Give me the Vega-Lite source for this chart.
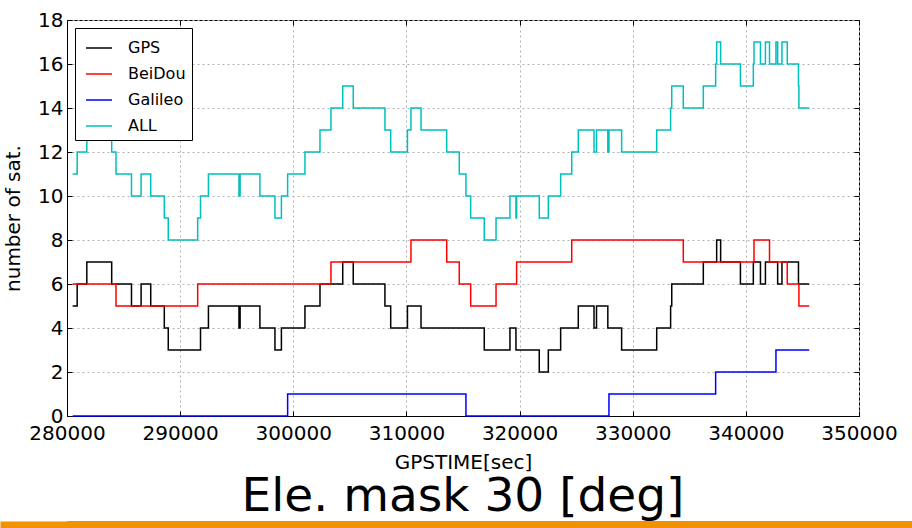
{
  "$schema": "https://vega.github.io/schema/vega-lite/v6.json",
  "background": "white",
  "padding": {"left": -5, "top": 9, "right": 0, "bottom": 0},
  "autosize": {"type": "pad"},
  "spacing": -3,
  "vconcat": [
    {
      "width": 792,
      "height": 396,
      "title": {"text": "Ele. mask 30 [deg]", "orient": "bottom", "fontSize": 47, "font": "DejaVu Sans", "fontWeight": "normal", "color": "black", "offset": 2, "anchor": "middle"},
      "data": {"values": [
        {"sat":"GPS","t":280500,"n":5},{"sat":"GPS","t":280900,"n":6},{"sat":"GPS","t":281750,"n":7},{"sat":"GPS","t":283950,"n":6},
        {"sat":"GPS","t":285700,"n":5},{"sat":"GPS","t":286550,"n":6},{"sat":"GPS","t":287400,"n":5},{"sat":"GPS","t":288600,"n":4},
        {"sat":"GPS","t":288950,"n":3},{"sat":"GPS","t":291800,"n":4},{"sat":"GPS","t":292500,"n":5},{"sat":"GPS","t":295200,"n":4},
        {"sat":"GPS","t":295300,"n":5},{"sat":"GPS","t":297050,"n":4},{"sat":"GPS","t":298380,"n":3},{"sat":"GPS","t":298950,"n":4},
        {"sat":"GPS","t":301030,"n":5},{"sat":"GPS","t":302360,"n":6},{"sat":"GPS","t":304370,"n":7},{"sat":"GPS","t":305300,"n":6},
        {"sat":"GPS","t":308100,"n":5},{"sat":"GPS","t":308610,"n":4},{"sat":"GPS","t":310090,"n":5},{"sat":"GPS","t":311290,"n":4},
        {"sat":"GPS","t":316880,"n":3},{"sat":"GPS","t":319150,"n":4},{"sat":"GPS","t":319680,"n":3},{"sat":"GPS","t":321740,"n":2},
        {"sat":"GPS","t":322540,"n":3},{"sat":"GPS","t":323630,"n":4},{"sat":"GPS","t":325190,"n":5},{"sat":"GPS","t":326580,"n":4},
        {"sat":"GPS","t":326800,"n":5},{"sat":"GPS","t":327800,"n":4},{"sat":"GPS","t":329020,"n":3},{"sat":"GPS","t":332120,"n":4},
        {"sat":"GPS","t":333350,"n":5},{"sat":"GPS","t":333450,"n":6},{"sat":"GPS","t":336240,"n":7},{"sat":"GPS","t":337420,"n":8},
        {"sat":"GPS","t":337770,"n":7},{"sat":"GPS","t":339520,"n":6},{"sat":"GPS","t":340660,"n":7},{"sat":"GPS","t":341290,"n":6},
        {"sat":"GPS","t":341730,"n":7},{"sat":"GPS","t":342810,"n":6},{"sat":"GPS","t":343190,"n":7},{"sat":"GPS","t":344650,"n":6},
        {"sat":"GPS","t":345600,"n":6},
        {"sat":"BeiDou","t":280500,"n":6},{"sat":"BeiDou","t":284330,"n":5},{"sat":"BeiDou","t":291550,"n":6},{"sat":"BeiDou","t":303330,"n":7},
        {"sat":"BeiDou","t":310400,"n":8},{"sat":"BeiDou","t":313560,"n":7},{"sat":"BeiDou","t":314670,"n":6},{"sat":"BeiDou","t":315680,"n":5},
        {"sat":"BeiDou","t":317920,"n":6},{"sat":"BeiDou","t":319740,"n":7},{"sat":"BeiDou","t":324610,"n":8},{"sat":"BeiDou","t":334470,"n":7},
        {"sat":"BeiDou","t":340720,"n":8},{"sat":"BeiDou","t":342090,"n":7},{"sat":"BeiDou","t":343660,"n":6},{"sat":"BeiDou","t":344690,"n":5},
        {"sat":"BeiDou","t":345600,"n":5},
        {"sat":"Galileo","t":280500,"n":0},{"sat":"Galileo","t":299500,"n":1},{"sat":"Galileo","t":315260,"n":0},{"sat":"Galileo","t":327900,"n":1},
        {"sat":"Galileo","t":337330,"n":2},{"sat":"Galileo","t":342660,"n":3},{"sat":"Galileo","t":345600,"n":3},
        {"sat":"ALL","t":280500,"n":11},{"sat":"ALL","t":280900,"n":12},{"sat":"ALL","t":281750,"n":13},{"sat":"ALL","t":283950,"n":12},
        {"sat":"ALL","t":284330,"n":11},{"sat":"ALL","t":285700,"n":10},{"sat":"ALL","t":286550,"n":11},{"sat":"ALL","t":287400,"n":10},
        {"sat":"ALL","t":288600,"n":9},{"sat":"ALL","t":288950,"n":8},{"sat":"ALL","t":291550,"n":9},{"sat":"ALL","t":291800,"n":10},
        {"sat":"ALL","t":292500,"n":11},{"sat":"ALL","t":295200,"n":10},{"sat":"ALL","t":295300,"n":11},{"sat":"ALL","t":297050,"n":10},
        {"sat":"ALL","t":298380,"n":9},{"sat":"ALL","t":298950,"n":10},{"sat":"ALL","t":299500,"n":11},{"sat":"ALL","t":301030,"n":12},
        {"sat":"ALL","t":302360,"n":13},{"sat":"ALL","t":303330,"n":14},{"sat":"ALL","t":304370,"n":15},{"sat":"ALL","t":305300,"n":14},
        {"sat":"ALL","t":308100,"n":13},{"sat":"ALL","t":308610,"n":12},{"sat":"ALL","t":310090,"n":13},{"sat":"ALL","t":310400,"n":14},
        {"sat":"ALL","t":311290,"n":13},{"sat":"ALL","t":313560,"n":12},{"sat":"ALL","t":314670,"n":11},{"sat":"ALL","t":315260,"n":10},
        {"sat":"ALL","t":315680,"n":9},{"sat":"ALL","t":316880,"n":8},{"sat":"ALL","t":317920,"n":9},{"sat":"ALL","t":319150,"n":10},
        {"sat":"ALL","t":319680,"n":9},{"sat":"ALL","t":319740,"n":10},{"sat":"ALL","t":321740,"n":9},{"sat":"ALL","t":322540,"n":10},
        {"sat":"ALL","t":323630,"n":11},{"sat":"ALL","t":324610,"n":12},{"sat":"ALL","t":325190,"n":13},{"sat":"ALL","t":326580,"n":12},
        {"sat":"ALL","t":326800,"n":13},{"sat":"ALL","t":327800,"n":12},{"sat":"ALL","t":327900,"n":13},{"sat":"ALL","t":329020,"n":12},
        {"sat":"ALL","t":332120,"n":13},{"sat":"ALL","t":333350,"n":14},{"sat":"ALL","t":333450,"n":15},{"sat":"ALL","t":334470,"n":14},
        {"sat":"ALL","t":336240,"n":15},{"sat":"ALL","t":337330,"n":16},{"sat":"ALL","t":337420,"n":17},{"sat":"ALL","t":337770,"n":16},
        {"sat":"ALL","t":339520,"n":15},{"sat":"ALL","t":340660,"n":16},{"sat":"ALL","t":340720,"n":17},{"sat":"ALL","t":341290,"n":16},
        {"sat":"ALL","t":341730,"n":17},{"sat":"ALL","t":342090,"n":16},{"sat":"ALL","t":342660,"n":17},{"sat":"ALL","t":342810,"n":16},
        {"sat":"ALL","t":343190,"n":17},{"sat":"ALL","t":343660,"n":16},{"sat":"ALL","t":344650,"n":15},{"sat":"ALL","t":344690,"n":14},
        {"sat":"ALL","t":345600,"n":14}
      ]},
      "layer": [
        {
          "mark": {"type": "line", "interpolate": "step-after", "strokeWidth": 1.5},
          "encoding": {
            "x": {"field": "t", "type": "quantitative",
                  "scale": {"domain": [280000, 350000], "nice": false, "zero": false},
                  "axis": {"title": "GPSTIME[sec]", "values": [280000, 290000, 300000, 310000, 320000, 330000, 340000, 350000],
                           "format": "d", "grid": true, "tickSize": -5, "labelPadding": 12, "titlePadding": 9, "labelFlush": false}},
            "y": {"field": "n", "type": "quantitative",
                  "scale": {"domain": [0, 18], "nice": false},
                  "axis": {"title": ["", "number of sat."], "titleLineHeight": 5, "values": [0, 2, 4, 6, 8, 10, 12, 14, 16, 18],
                           "grid": true, "tickSize": -5, "labelPadding": 9, "titlePadding": 14}},
            "color": {"field": "sat", "type": "nominal", "sort": ["GPS", "BeiDou", "Galileo", "ALL"],
                      "scale": {"domain": ["GPS", "BeiDou", "Galileo", "ALL"], "range": ["#000000", "#ff0000", "#0000ff", "#00bfbf"]},
                      "legend": {"title": null, "orient": "top-left", "offset": 8, "fillColor": "white", "strokeColor": "black",
                                 "padding": 6, "symbolType": "stroke", "symbolSize": 676, "symbolStrokeWidth": 1.5,
                                 "symbolOffset": 4, "labelOffset": 15, "labelFontSize": 16, "rowPadding": 4}}
          }
        },
        {
          "mark": {"type": "line", "opacity": 0},
          "encoding": {
            "x": {"field": "t", "type": "quantitative",
                  "axis": {"orient": "top", "title": null, "labels": false, "grid": false, "domain": false, "tickSize": -5,
                           "values": [280000, 290000, 300000, 310000, 320000, 330000, 340000, 350000]}},
            "y": {"field": "n", "type": "quantitative",
                  "axis": {"orient": "right", "title": null, "labels": false, "grid": false, "domain": false, "tickSize": -5,
                           "values": [0, 2, 4, 6, 8, 10, 12, 14, 16, 18]}},
            "detail": {"field": "sat", "type": "nominal"}
          }
        }
      ],
      "resolve": {"axis": {"x": "independent", "y": "independent"}}
    },
    {
      "width": 845,
      "height": 10,
      "data": {"values": [{"band": 0}]},
      "mark": {"type": "rule", "opacity": 0},
      "encoding": {
        "y": {"field": "band", "type": "quantitative", "scale": {"domain": [-1, 1]},
              "axis": {"values": [0], "labels": false, "domain": false, "grid": false, "title": null,
                       "tickSize": 67, "tickWidth": 10, "tickColor": "#f39200", "tickCap": "butt", "tickRound": false}}
      },
      "view": {"fill": "#f39200", "stroke": null}
    }
  ],
  "config": {
    "font": "DejaVu Sans",
    "view": {"stroke": "black", "strokeWidth": 1},
    "axis": {"labelFont": "DejaVu Sans", "titleFont": "DejaVu Sans", "labelColor": "black", "titleColor": "black",
             "domainColor": "black", "tickColor": "black", "gridColor": "#b0b0b0", "gridDash": [2, 3],
             "titleFontWeight": "normal", "labelFontSize": 20, "titleFontSize": 20},
    "legend": {"labelFont": "DejaVu Sans", "labelColor": "black"}
  }
}
